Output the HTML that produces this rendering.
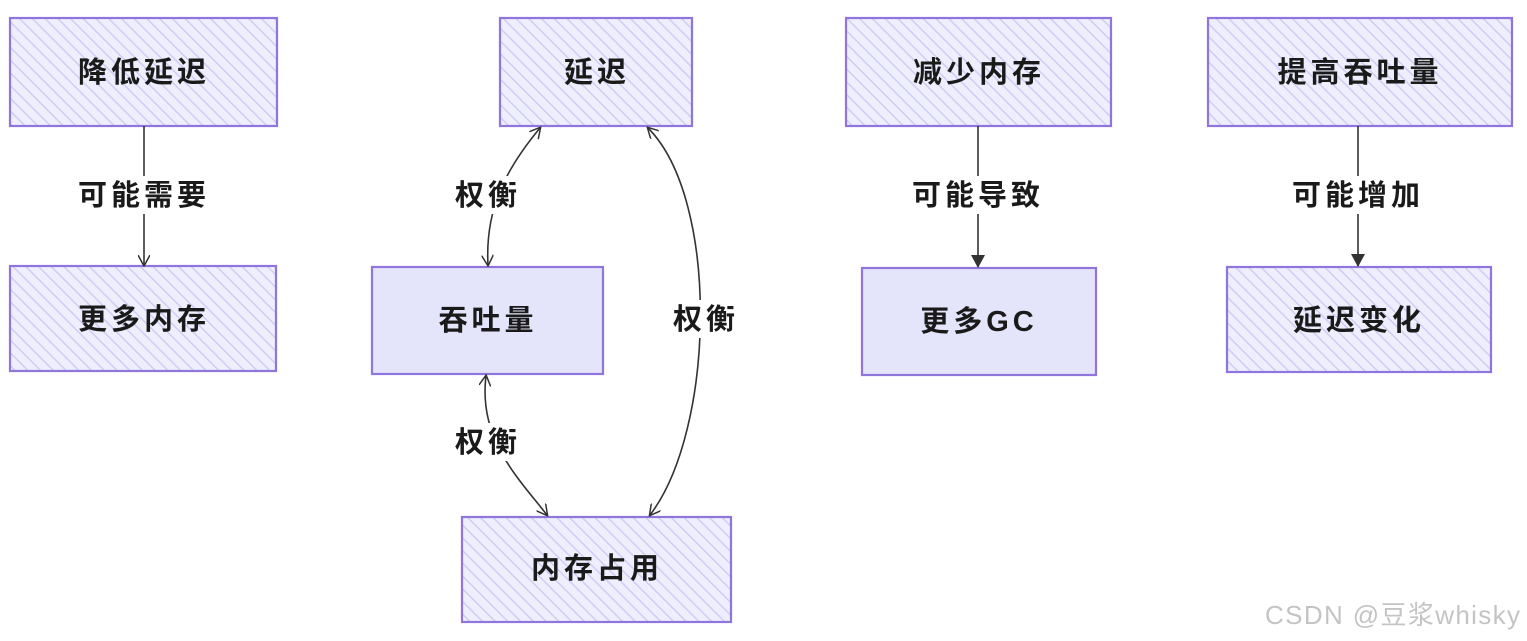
<!DOCTYPE html>
<html><head><meta charset="utf-8">
<style>
html,body{margin:0;padding:0;background:#fff;}
svg{display:block;}
text{font-family:"Liberation Sans","Noto Sans CJK SC",sans-serif;fill:#1a1a1a;}
</style></head>
<body>
<svg width="1527" height="641" viewBox="0 0 1527 641" xmlns="http://www.w3.org/2000/svg">
<defs>
<pattern id="h" width="9" height="9" patternUnits="userSpaceOnUse" patternTransform="rotate(-45)">
<rect width="9" height="9" fill="#eeeefc"/>
<line x1="0" y1="0" x2="0" y2="9" stroke="#cfcdf4" stroke-width="3"/>
</pattern>
<marker id="a" markerWidth="12" markerHeight="12" refX="10" refY="6" orient="auto-start-reverse" markerUnits="userSpaceOnUse">
<path d="M0,0 L11,6 L0,12" fill="none" stroke="#333" stroke-width="1.5"/>
</marker>
<marker id="f" markerWidth="14" markerHeight="14" refX="12" refY="7" orient="auto" markerUnits="userSpaceOnUse">
<path d="M0,0 L13,7 L0,14 Z" fill="#333"/>
</marker>
</defs>
<g stroke="#8f75dc" stroke-width="2.2" fill="url(#h)">
<rect x="10" y="18" width="267" height="108"/>
<rect x="10" y="266" width="266" height="105"/>
<rect x="500" y="18" width="192" height="108"/>
<rect x="372" y="267" width="231" height="107" fill="#e4e4fa"/>
<rect x="462" y="517" width="269" height="105"/>
<rect x="846" y="18" width="265" height="108"/>
<rect x="862" y="268" width="234" height="107" fill="#e4e4fa"/>
<rect x="1208" y="18" width="304" height="108"/>
<rect x="1227" y="267" width="264" height="105"/>
</g>
<g fill="none" stroke="#333" stroke-width="1.6">
<path d="M144,126 L144,265" marker-end="url(#a)"/>
<path d="M540,128 C505,170 485,210 488,265" marker-start="url(#a)" marker-end="url(#a)"/>
<path d="M648,128 C720,200 715,430 650,515" marker-start="url(#a)" marker-end="url(#a)"/>
<path d="M486,376 C478,440 520,480 547,515" marker-start="url(#a)" marker-end="url(#a)"/>
<path d="M978,126 L978,267" marker-end="url(#f)"/>
<path d="M1358,126 L1358,266" marker-end="url(#f)"/>
</g>
<g font-size="29" text-anchor="middle" letter-spacing="4" font-weight="bold">
<rect x="70" y="176" width="148" height="38" fill="#fff"/>
<text x="144" y="205">可能需要</text>
<rect x="450" y="176" width="74" height="38" fill="#fff"/>
<text x="488" y="205">权衡</text>
<rect x="668" y="300" width="74" height="38" fill="#fff"/>
<text x="706" y="329">权衡</text>
<rect x="450" y="423" width="74" height="38" fill="#fff"/>
<text x="488" y="452">权衡</text>
<rect x="904" y="176" width="148" height="38" fill="#fff"/>
<text x="978" y="205">可能导致</text>
<rect x="1284" y="176" width="148" height="38" fill="#fff"/>
<text x="1358" y="205">可能增加</text>
<text x="144" y="82">降低延迟</text>
<text x="144" y="329">更多内存</text>
<text x="597" y="82">延迟</text>
<text x="488" y="330">吞吐量</text>
<text x="597" y="578">内存占用</text>
<text x="979" y="82">减少内存</text>
<text x="979" y="331">更多GC</text>
<text x="1360" y="82">提高吞吐量</text>
<text x="1359" y="330">延迟变化</text>
</g>
<text x="1265" y="624" font-size="26" textLength="255" style="fill:#c4c4c4">CSDN @豆浆whisky</text>
</svg>
</body></html>
